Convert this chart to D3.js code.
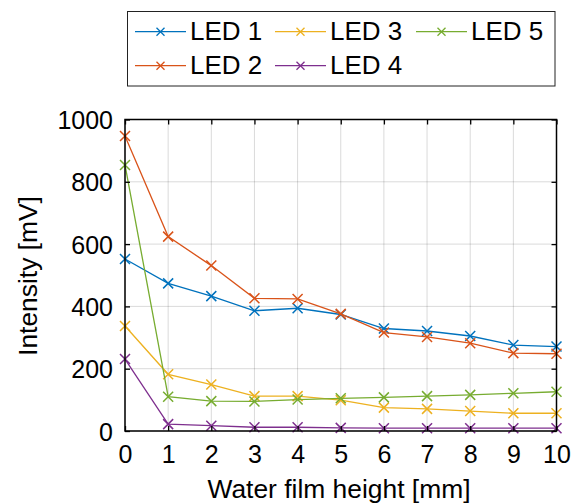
<!DOCTYPE html>
<html><head><meta charset="utf-8">
<script src="https://cdn.jsdelivr.net/npm/d3@7"></script>
<style>body{margin:0;background:#fff}svg{display:block}text{font-family:Arial,"Liberation Sans",sans-serif}</style>
</head><body>
<svg id="c" width="576" height="503"></svg>
<script>
const xValues = [0,1,2,3,4,5,6,7,8,9,10];
const led1 = [552,474,433,386,394,374,329,321,305,276,271];
const led2 = [947,624,531,426,424,376,316,302,282,250,248];
const led3 = [337,182,149,112,112,99,75,71,64,57,57];
const led4 = [231,22,17,12,12,10,9,9,9,9,9];
const led5 = [854,110,96,95,101,105,108,112,116,121,126];
const seriesNames = ["LED 1","LED 2","LED 3","LED 4","LED 5"];
const seriesColors = ["#0072BD","#D95319","#EDB120","#7E2F8E","#77AC30"];
const seriesData = [led1,led2,led3,led4,led5];
const yTicks = [0,200,400,600,800,1000];
const xLabel = "Water film height [mm]";
const yLabel = "Intensity [mV]";

const svg = d3.select("#c");
const L=125, R=556.5, T=119.5, B=431;
const x = d3.scaleLinear().domain([0,10]).range([L,R]);
const y = d3.scaleLinear().domain([0,1000]).range([B,T]);

// grid
const g = svg.append("g");
g.selectAll(".gx").data(xValues).enter().append("line")
 .attr("x1",d=>x(d)).attr("x2",d=>x(d)).attr("y1",T).attr("y2",B)
 .attr("stroke","#000").attr("stroke-opacity",0.15).attr("stroke-width",1);
g.selectAll(".gy").data(yTicks).enter().append("line")
 .attr("y1",d=>y(d)).attr("y2",d=>y(d)).attr("x1",L).attr("x2",R)
 .attr("stroke","#000").attr("stroke-opacity",0.15).attr("stroke-width",1);

// series
const line = d3.line().x((d,i)=>x(xValues[i])).y(d=>y(d));
seriesData.forEach((s,k)=>{
  const col = seriesColors[k];
  svg.append("path").datum(s).attr("d",line).attr("fill","none")
    .attr("stroke",col).attr("stroke-width",1.3);
  const m=5;
  svg.append("g").selectAll("path").data(s).enter().append("path")
    .attr("d",(d,i)=>{const cx=x(xValues[i]), cy=y(d);
      return `M${cx-m},${cy-m}L${cx+m},${cy+m}M${cx-m},${cy+m}L${cx+m},${cy-m}`;})
    .attr("stroke",col).attr("stroke-width",1.5).attr("fill","none");
});

// axes
const tl=5, fs=25;
const axB = svg.append("g").attr("transform",`translate(0,${B})`)
  .call(d3.axisBottom(x).tickValues(xValues).tickSize(-tl).tickFormat(d3.format("d")));
const axT = svg.append("g").attr("transform",`translate(0,${T})`)
  .call(d3.axisTop(x).tickValues(xValues).tickSize(-tl).tickFormat(""));
const axL = svg.append("g").attr("transform",`translate(${L},0)`)
  .call(d3.axisLeft(y).tickValues(yTicks).tickSize(-tl).tickFormat(d3.format("d")));
const axR = svg.append("g").attr("transform",`translate(${R},0)`)
  .call(d3.axisRight(y).tickValues(yTicks).tickSize(-tl).tickFormat(""));
[axB,axT,axL,axR].forEach(a=>{
  a.select(".domain").remove();
  a.selectAll("line").attr("stroke","#000").attr("stroke-width",1.3);
  a.selectAll("text").attr("font-size",fs).attr("fill","#000")
   .style("font-family","Arial, 'Liberation Sans', sans-serif");
});
axB.selectAll("text").attr("dy",null).attr("y",463-B);
axL.selectAll("text").attr("x",113-L).attr("dy","0.36em");
svg.append("rect").attr("x",L).attr("y",T).attr("width",R-L).attr("height",B-T)
  .attr("fill","none").attr("stroke","#000").attr("stroke-width",1.5);

// axis labels
svg.append("text").attr("x",339).attr("y",498).attr("text-anchor","middle")
  .attr("font-size",26.4).attr("fill","#000").text(xLabel);
svg.append("text").attr("transform",`translate(37,276) rotate(-90)`)
  .attr("text-anchor","middle").attr("font-size",26.4).attr("fill","#000").text(yLabel);

// legend
svg.append("rect").attr("x",127.5).attr("y",11.5).attr("width",427.5).attr("height",74.5)
  .attr("fill","#fff").attr("stroke","#222").attr("stroke-width",1);
const legPos = [[135,31.7],[135,65.7],[275,31.7],[275,65.7],[416,31.7]];
seriesNames.forEach((n,k)=>{
  const [lx,ly]=legPos[k]; const col=seriesColors[k];
  const lg=svg.append("g");
  lg.append("line").attr("x1",lx).attr("x2",lx+51).attr("y1",ly).attr("y2",ly)
    .attr("stroke",col).attr("stroke-width",1.3);
  const cx=lx+25.5, m=4;
  lg.append("path").attr("d",`M${cx-m},${ly-m}L${cx+m},${ly+m}M${cx-m},${ly+m}L${cx+m},${ly-m}`)
    .attr("stroke",col).attr("stroke-width",1.3);
  lg.append("text").attr("x",lx+55).attr("y",ly-1).attr("dy","0.36em")
    .attr("font-size",26).attr("fill","#000").text(n);
});
</script>
</body></html>
